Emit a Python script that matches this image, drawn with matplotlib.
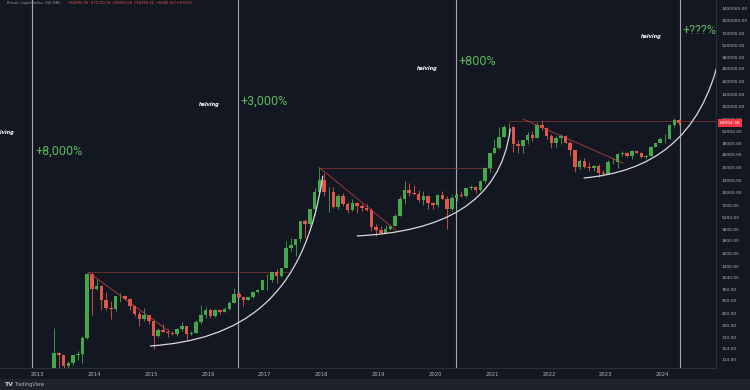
import numpy as np
import matplotlib
matplotlib.use("Agg")
import matplotlib.pyplot as plt
from matplotlib.path import Path
from matplotlib.patches import PathPatch, Rectangle

# monthly candles, BNC:BLX
months = [
    "2013-04", "2013-05", "2013-06", "2013-07", "2013-08", "2013-09", "2013-10", "2013-11", "2013-12",
    "2014-01", "2014-02", "2014-03", "2014-04", "2014-05", "2014-06", "2014-07", "2014-08", "2014-09", "2014-10", "2014-11", "2014-12",
    "2015-01", "2015-02", "2015-03", "2015-04", "2015-05", "2015-06", "2015-07", "2015-08", "2015-09", "2015-10", "2015-11", "2015-12",
    "2016-01", "2016-02", "2016-03", "2016-04", "2016-05", "2016-06", "2016-07", "2016-08", "2016-09", "2016-10", "2016-11", "2016-12",
    "2017-01", "2017-02", "2017-03", "2017-04", "2017-05", "2017-06", "2017-07", "2017-08", "2017-09", "2017-10", "2017-11", "2017-12",
    "2018-01", "2018-02", "2018-03", "2018-04", "2018-05", "2018-06", "2018-07", "2018-08", "2018-09", "2018-10", "2018-11", "2018-12",
    "2019-01", "2019-02", "2019-03", "2019-04", "2019-05", "2019-06", "2019-07", "2019-08", "2019-09", "2019-10", "2019-11", "2019-12",
    "2020-01", "2020-02", "2020-03", "2020-04", "2020-05", "2020-06", "2020-07", "2020-08", "2020-09", "2020-10", "2020-11", "2020-12",
    "2021-01", "2021-02", "2021-03", "2021-04", "2021-05", "2021-06", "2021-07", "2021-08", "2021-09", "2021-10", "2021-11", "2021-12",
    "2022-01", "2022-02", "2022-03", "2022-04", "2022-05", "2022-06", "2022-07", "2022-08", "2022-09", "2022-10", "2022-11", "2022-12",
    "2023-01", "2023-02", "2023-03", "2023-04", "2023-05", "2023-06", "2023-07", "2023-08", "2023-09", "2023-10", "2023-11", "2023-12",
    "2024-01", "2024-02", "2024-03", "2024-04",
]
opens = [
    93, 139, 129, 97, 106, 129, 133, 204, 1129,
    754, 830, 565, 458, 446, 628, 640, 585, 478, 388, 338, 378,
    320, 218, 254, 244, 236, 230, 263, 284, 230, 236, 314, 377,
    430, 368, 437, 416, 448, 531, 673, 624, 575, 609, 700, 742,
    963, 970, 1190, 1080, 1348, 2300, 2480, 2875, 4700, 4340, 6470, 10200,
    14150, 10200, 10300, 6920, 9240, 7500, 6400, 7730, 7020, 6630, 6370, 4040,
    3740, 3460, 3830, 4100, 5350, 8570, 10820, 10090, 9630, 8290, 9200, 7550,
    7190, 9390, 8600, 6440, 8660, 9460, 9140, 11350, 11650, 10790, 13800, 19700,
    28990, 33100, 45200, 58800, 57700, 37300, 35000, 41500, 47100, 43800, 61300, 57000,
    46300, 38500, 43200, 45500, 37700, 31800, 19900, 23300, 20000, 19400, 20500, 17200,
    16500, 23100, 23100, 28500, 29200, 27200, 30500, 29200, 25900, 27000, 34600, 37700,
    42300, 42600, 61200, 71300,
]
highs = [
    266, 140, 130, 111, 130, 145, 215, 1163, 1160,
    1000, 860, 710, 550, 630, 680, 650, 600, 500, 420, 460, 385,
    320, 270, 300, 260, 250, 268, 318, 285, 245, 330, 500, 470,
    460, 450, 440, 470, 550, 780, 700, 630, 615, 720, 755, 975,
    1150, 1200, 1300, 1350, 2760, 3000, 2900, 4750, 5000, 6470, 11500, 19700,
    17200, 11800, 11700, 9750, 9990, 7770, 8500, 7760, 7400, 7460, 6600, 4300,
    4100, 4200, 4130, 5650, 9080, 13880, 13200, 12330, 10950, 10500, 9500, 7750,
    9590, 10500, 9200, 9460, 10080, 10400, 11450, 12480, 12090, 14100, 19900, 29300,
    42000, 58300, 61700, 64900, 59600, 41300, 42400, 50500, 52900, 67000, 69000, 59100,
    47900, 45800, 48200, 47400, 40000, 31900, 24700, 25200, 22800, 21000, 21500, 18400,
    23900, 25300, 29200, 31000, 29800, 31400, 31800, 30200, 27500, 35200, 38400, 44700,
    48900, 63900, 73800, 72800,
]
lows = [
    68, 92, 88, 66, 100, 115, 105, 199, 380,
    740, 430, 440, 340, 420, 540, 570, 440, 370, 280, 320, 300,
    152, 210, 240, 210, 225, 215, 250, 195, 225, 235, 300, 350,
    350, 365, 395, 410, 440, 520, 600, 480, 570, 605, 680, 740,
    750, 920, 890, 1060, 1340, 2100, 1830, 2670, 2970, 4110, 5500, 10000,
    9200, 6000, 6600, 6450, 7050, 5780, 6100, 5880, 6100, 6200, 3600, 3150,
    3350, 3390, 3700, 4080, 5330, 7450, 9100, 9330, 7770, 7300, 6550, 6430,
    6870, 8450, 3850, 6150, 8100, 8900, 8970, 10950, 9900, 10400, 13200, 17600,
    28100, 32300, 44900, 47000, 30000, 28800, 29300, 37300, 39600, 43300, 53300, 42000,
    32900, 34300, 37200, 37600, 26700, 17600, 18800, 19500, 18200, 18200, 15500, 16300,
    16500, 21400, 19600, 26900, 25800, 24800, 28900, 25200, 24900, 26600, 34100, 37600,
    38500, 41900, 59000, 60800,
]
closes = [
    139, 129, 97, 106, 129, 133, 204, 1129, 754,
    830, 565, 458, 446, 628, 640, 585, 478, 388, 338, 378, 320,
    218, 254, 244, 236, 230, 263, 284, 230, 236, 314, 377, 430,
    368, 437, 416, 448, 531, 673, 624, 575, 609, 700, 742, 963,
    970, 1190, 1080, 1348, 2300, 2480, 2875, 4700, 4340, 6470, 10200, 14150,
    10200, 10300, 6920, 9240, 7500, 6400, 7730, 7020, 6630, 6370, 4040, 3740,
    3460, 3830, 4100, 5350, 8570, 10820, 10090, 9630, 8290, 9200, 7550, 7190,
    9390, 8600, 6440, 8660, 9460, 9140, 11350, 11650, 10790, 13800, 19700, 28990,
    33100, 45200, 58800, 57700, 37300, 35000, 41500, 47100, 43800, 61300, 57000, 46300,
    38500, 43200, 45500, 37700, 31800, 19900, 23300, 20000, 19400, 20500, 17200, 16500,
    23100, 23100, 28500, 29200, 27200, 30500, 29200, 25900, 27000, 34600, 37700, 42300,
    42600, 61200, 71300, 64994.36,
]

halvings = [2012.91, 2016.52, 2020.36, 2024.30]
gains = ["+8,000%", "+3,000%", "+800%", "+???%"]
gain_prices = [30800, 117000, 333000, 766000]
halving_label_prices = [49900, 108000, 277000, 651000]

# drawings: (date, price)
trend_lines = [
    [(2013.89, 1200), (2015.33, 242)],
    [(2017.96, 19700), (2019.34, 3520)],
    [(2021.55, 72000), (2023.30, 22300)],
]
top_lines = [
    [(2013.89, 1200), (2017.40, 1200)],
    [(2017.96, 19700), (2021.00, 19700)],
    [(2021.30, 69000), (2025.00, 69000)],
]
arcs = [
    [(2014.98, 166), (2016.56, 195), (2017.70, 570), (2018.02, 15800)],
    [(2018.62, 3160), (2020.09, 3520), (2021.15, 7300), (2021.32, 56000)],
    [(2022.61, 14900), (2023.79, 17500), (2024.67, 41300), (2025.01, 403000)],
]

price_ticks = [114, 154, 210, 290, 400, 560, 760, 1040, 1400, 2000, 2800, 3800, 5200, 7200,
               10000, 14000, 20000, 28000, 38000, 52000, 72000, 100000, 140000, 200000,
               280000, 380000, 520000, 720000, 1000000, 1400000]
years = list(range(2013, 2025))

BG = "#131722"
UP = "#43a84a"
DOWN = "#e0564b"

fig = plt.figure(figsize=(7.5, 3.9), dpi=100, facecolor=BG)
fig.patches.append(Rectangle((0, 0), 1, 11 / 390, transform=fig.transFigure,
                             facecolor="#1e222d", edgecolor="none", zorder=0))
ax = fig.add_axes([0, 22 / 390, 716 / 750, 368 / 390], facecolor=BG)

x = np.array([int(m[:4]) + (int(m[5:]) - 0.5) / 12 for m in months])
o, h, l, c = map(np.array, (opens, highs, lows, closes))
col = np.where(c >= o, UP, DOWN)
ax.vlines(x, l, h, colors=col, lw=0.6, zorder=3)
ax.bar(x, np.abs(c - o), bottom=np.minimum(o, c), width=0.062, color=col,
       edgecolor="none", zorder=4)

ax.set_yscale("log")
ax.set_ylim(92, 1.75e6)
ax.set_xlim(2012.34, 2024.94)

for hx in halvings:
    ax.axvline(hx, color="#a3a6ae", lw=0.8, zorder=2)
for hx, lp, gp, g in zip(halvings, halving_label_prices, gain_prices, gains):
    ax.text(hx - 0.5, lp, "halving", color="white", fontsize=3.6, style="italic",
            ha="center", va="center", fontweight="bold", zorder=6)
    ax.text(hx + 0.05, gp, g, color="#5cb85c", fontsize=9, ha="left", va="center",
            family="Roboto", zorder=6)

for seg in trend_lines:
    (x0, y0), (x1, y1) = seg
    ax.plot([x0, x1], [y0, y1], color="#c0443f", lw=0.7, alpha=0.8, zorder=5)
for seg in top_lines:
    (x0, y0), (x1, y1) = seg
    ax.plot([x0, x1], [y0, y1], color="#8e3535", lw=0.6, alpha=0.8, zorder=2)
for pts in arcs:
    path = Path(pts, [Path.MOVETO, Path.CURVE4, Path.CURVE4, Path.CURVE4])
    ax.add_patch(PathPatch(path, facecolor="none", edgecolor="#d8d9dc", lw=0.9, zorder=5))

ax.yaxis.tick_right()
ax.set_yticks(price_ticks)
ax.set_yticklabels([f"{p:.2f}" for p in price_ticks])
ax.yaxis.set_minor_locator(matplotlib.ticker.NullLocator())
ax.set_xticks(years)
ax.set_xticklabels([str(yr) for yr in years])
ax.tick_params(axis="y", length=0, pad=4, labelsize=3.2, labelcolor="#b2b5be")
ax.tick_params(axis="x", length=0, pad=3, labelsize=3.8, labelcolor="#b2b5be")
for s in ["top", "left"]:
    ax.spines[s].set_visible(False)
for s in ["right", "bottom"]:
    ax.spines[s].set_color("#2a2e39")
    ax.spines[s].set_linewidth(0.8)

# last price tag
ax.annotate(f"{closes[-1]:.2f}", xy=(1, closes[-1]), xycoords=("axes fraction", "data"),
            xytext=(2.5, 0), textcoords="offset points", color="white", fontsize=3.2,
            va="center", ha="left", zorder=10,
            bbox=dict(boxstyle="square,pad=0.4", fc="#f23645", ec="none"))

fig.text(7 / 750, 1 - 3 / 390, "Bitcoin Liquid Index, 1W, BNC", color="#9598a1",
         fontsize=2.6, va="center", ha="left")
fig.text(68 / 750, 1 - 3 / 390,
         "O64990.95  H71170.74  L60802.08  C64994.36  \u22126080.36 (\u22128.55%)",
         color="#e0564b", fontsize=2.6, va="center", ha="left")
fig.text(4 / 750, 5.5 / 390, "TV", color="#d1d4dc", fontsize=4.5, fontweight="bold",
         va="center", ha="left")
fig.text(14 / 750, 5.5 / 390, "TradingView", color="#b2b5be", fontsize=3.6,
         va="center", ha="left")

fig.savefig("out.png", dpi=100, facecolor=BG)
